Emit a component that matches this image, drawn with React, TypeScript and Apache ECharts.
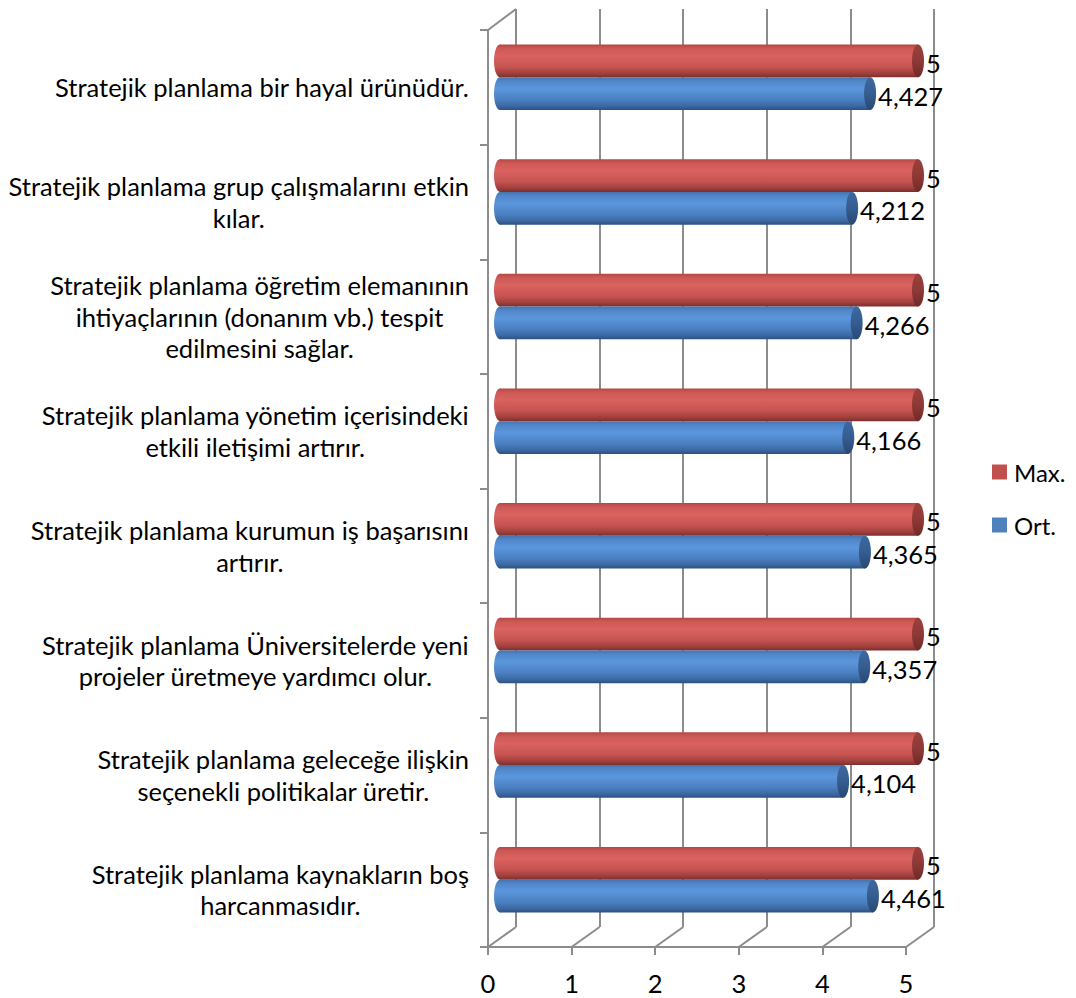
import React, { useEffect, useRef } from "react";
import * as echarts from "echarts";

// Survey statements (top to bottom) and their scores
const categories: string[] = [
  "Stratejik planlama bir hayal ürünüdür.",
  "Stratejik planlama grup çalışmalarını etkin\nkılar.",
  "Stratejik planlama öğretim elemanının\nihtiyaçlarının (donanım vb.) tespit\nedilmesini sağlar.",
  "Stratejik planlama yönetim içerisindeki\netkili iletişimi artırır.",
  "Stratejik planlama kurumun iş başarısını\nartırır.",
  "Stratejik planlama Üniversitelerde yeni\nprojeler üretmeye yardımcı olur.",
  "Stratejik planlama geleceğe ilişkin\nseçenekli politikalar üretir.",
  "Stratejik planlama kaynakların boş\nharcanmasıdır.",
];
const maxValues: number[] = [5, 5, 5, 5, 5, 5, 5, 5];
const avgValues: number[] = [4.427, 4.212, 4.266, 4.166, 4.365, 4.357, 4.104, 4.461];
const xTicks: number[] = [0, 1, 2, 3, 4, 5];
const seriesNames = ["Max.", "Ort."];

const FONT = "Lato, 'Open Sans', sans-serif";
const TEXT_SIZE = 25.5;
const GRID_COLOR = "#8c8c8c";
const DEPTH_X = 28;
const DEPTH_Y = -20;

const palettes = {
  "Max.": {
    flat: "#C0504D",
    body: [
      [0, "#b44744"],
      [0.12, "#cd5956"],
      [0.35, "#da625f"],
      [0.68, "#c65451"],
      [0.88, "#a1403d"],
      [1, "#7c2f2d"],
    ],
    cap: [
      [0, "#9b3f3c"],
      [0.5, "#8f3936"],
      [1, "#6f2a28"],
    ],
  },
  "Ort.": {
    flat: "#4F81BD",
    body: [
      [0, "#4474ae"],
      [0.12, "#5187ca"],
      [0.35, "#5b96dc"],
      [0.68, "#4b80c2"],
      [0.88, "#3c69a2"],
      [1, "#2d5081"],
    ],
    cap: [
      [0, "#3d68a0"],
      [0.5, "#355d90"],
      [1, "#284872"],
    ],
  },
} as const;

function grad(stops: readonly (readonly [number, string])[]) {
  return new echarts.graphic.LinearGradient(
    0,
    0,
    0,
    1,
    stops.map(([offset, color]) => ({ offset, color }))
  );
}

function fmt(v: number): string {
  return String(v).replace(".", ",");
}

function cylinderSeries(name: "Max." | "Ort.", values: number[], side: number) {
  const pal = palettes[name];
  return {
    type: "custom",
    name,
    xAxisIndex: 2,
    yAxisIndex: 2,
    itemStyle: { color: pal.flat },
    encode: { x: 0, y: 1 },
    data: values.map((v, i) => [v, i]),
    z: 5,
    renderItem: (params: any, api: any) => {
      const v = api.value(0);
      const c = api.value(1);
      const p0 = api.coord([0, c]);
      const p1 = api.coord([v, c]);
      const band = api.size([0, 1])[1];
      const h = band * 0.285;
      const cy = p0[1] + side * band * 0.143;
      const rx = 6;
      return {
        type: "group",
        children: [
          {
            type: "ellipse",
            shape: { cx: p0[0], cy, rx, ry: h / 2 },
            style: { fill: grad(pal.body) },
          },
          {
            type: "rect",
            shape: { x: p0[0], y: cy - h / 2, width: p1[0] - p0[0], height: h },
            style: { fill: grad(pal.body) },
          },
          {
            type: "ellipse",
            shape: { cx: p1[0], cy, rx, ry: h / 2 },
            style: { fill: grad(pal.cap) },
          },
          {
            type: "text",
            x: p1[0] + rx + 2,
            y: cy + 2,
            style: {
              text: fmt(v),
              fill: "#000",
              font: `${TEXT_SIZE}px ${FONT}`,
              verticalAlign: "middle",
              align: "left",
            },
          },
        ],
      };
    },
  };
}

export default function App() {
  const ref = useRef<HTMLDivElement>(null);

  useEffect(() => {
    if (!ref.current) return;
    const chart = echarts.init(ref.current, undefined, { renderer: "svg" });

    const option: any = {
      animation: false,
      backgroundColor: "#ffffff",
      textStyle: { fontFamily: FONT },
      legend: {
        orient: "vertical",
        left: 992,
        top: 460,
        padding: 0,
        itemWidth: 15,
        itemHeight: 15,
        itemGap: 29,
        icon: "rect",
        data: seriesNames,
        textStyle: {
          fontSize: 24,
          lineHeight: 21,
          color: "#000",
          fontFamily: FONT,
          padding: [0, 0, 0, 2],
        },
      },
      grid: [
        // front plane: axis lines, ticks and labels
        { left: 488, right: 170, top: 30, bottom: 51 },
        // back wall: vertical gridlines
        { left: 516, right: 142, top: 9, bottom: 71 },
        // mid depth: the cylinders
        { left: 500, right: 158, top: 20, bottom: 61 },
      ],
      xAxis: [
        {
          gridIndex: 0,
          type: "value",
          min: 0,
          max: 5,
          interval: 1,
          axisLine: { show: true, lineStyle: { color: GRID_COLOR, width: 2 } },
          axisTick: { show: true, length: 8, lineStyle: { color: GRID_COLOR, width: 2 } },
          axisLabel: { fontSize: TEXT_SIZE, color: "#000", margin: 23, fontFamily: FONT },
          splitLine: { show: false },
        },
        {
          gridIndex: 1,
          type: "value",
          min: 0,
          max: 5,
          interval: 1,
          axisLine: { show: false },
          axisTick: { show: false },
          axisLabel: { show: false },
          splitLine: { show: true, lineStyle: { color: GRID_COLOR, width: 2 } },
        },
        {
          gridIndex: 2,
          type: "value",
          min: 0,
          max: 5,
          interval: 1,
          show: false,
        },
      ],
      yAxis: [
        {
          gridIndex: 0,
          type: "category",
          inverse: true,
          data: categories,
          axisLine: { show: true, lineStyle: { color: GRID_COLOR, width: 2 } },
          axisTick: { show: true, length: 8, lineStyle: { color: GRID_COLOR, width: 2 } },
          axisLabel: {
            align: "right",
            margin: 19,
            formatter: (val: string) =>
              val
                .split("\n")
                .map((l) => `{c|${l}}`)
                .join("\n"),
            rich: {
              c: {
                align: "center",
                fontSize: TEXT_SIZE,
                lineHeight: 31.5,
                color: "#000",
                fontFamily: FONT,
              },
            },
          },
          splitLine: { show: false },
        },
        {
          gridIndex: 1,
          type: "category",
          inverse: true,
          data: categories,
          show: false,
        },
        {
          gridIndex: 2,
          type: "category",
          inverse: true,
          data: categories,
          show: false,
        },
      ],
      series: [
        // receding floor lines and the top edge of the side wall
        {
          type: "custom",
          name: "floor",
          xAxisIndex: 0,
          yAxisIndex: 0,
          silent: true,
          legendHoverLink: false,
          encode: { x: 0 },
          data: xTicks.map((t) => [t, 0]),
          z: 1,
          renderItem: (params: any, api: any) => {
            const cs = params.coordSys;
            const x = api.coord([api.value(0), 0])[0];
            const yb = cs.y + cs.height;
            const lineStyle = { stroke: GRID_COLOR, lineWidth: 2 };
            const children: any[] = [
              {
                type: "line",
                shape: { x1: x, y1: yb, x2: x + DEPTH_X, y2: yb + DEPTH_Y },
                style: lineStyle,
              },
            ];
            if (api.value(0) === 0) {
              children.push({
                type: "line",
                shape: { x1: cs.x, y1: cs.y, x2: cs.x + DEPTH_X, y2: cs.y + DEPTH_Y - 1 },
                style: lineStyle,
              });
            }
            return { type: "group", children };
          },
        },
        cylinderSeries("Max.", maxValues, -1),
        cylinderSeries("Ort.", avgValues, 1),
      ],
    };

    chart.setOption(option);
    return () => chart.dispose();
  }, []);

  return (
    <div
      ref={ref}
      style={{ position: "absolute", left: 0, top: 0, width: 1076, height: 998 }}
    />
  );
}
